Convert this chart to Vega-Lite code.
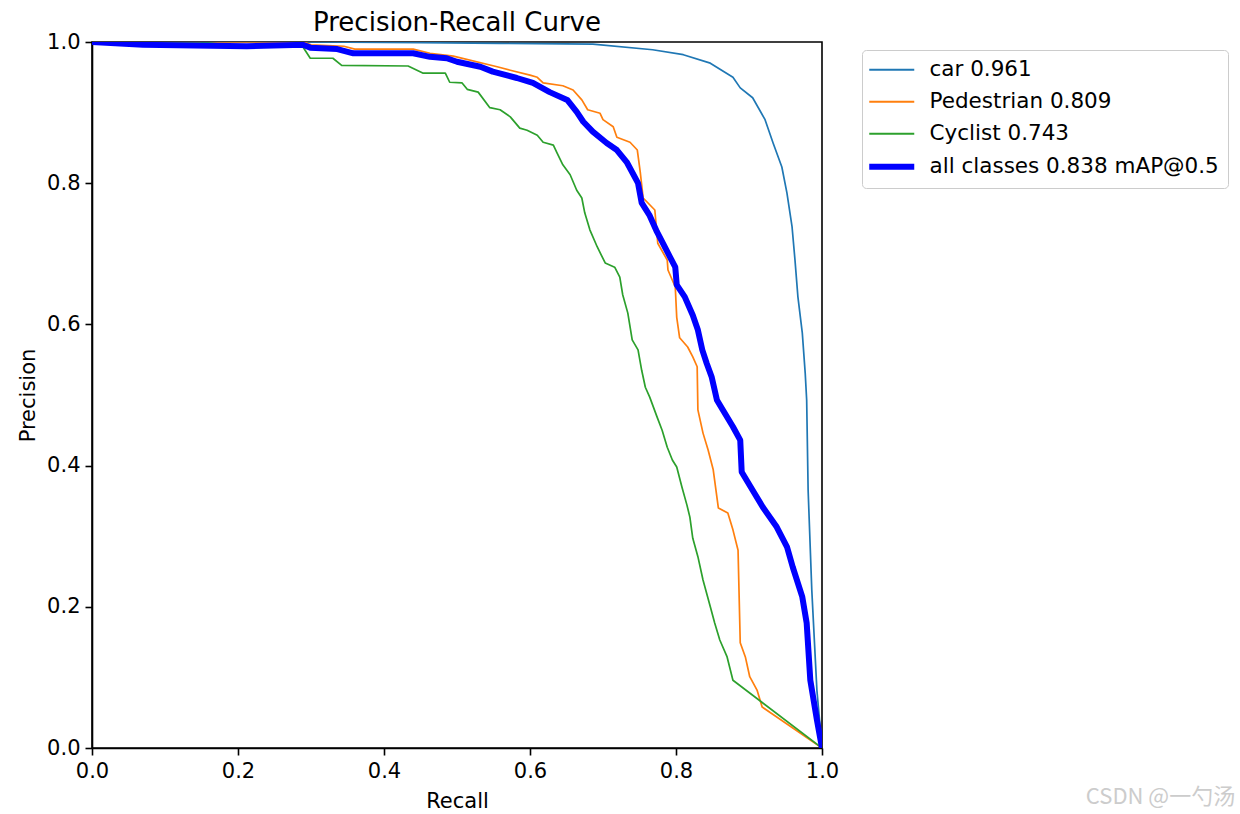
{
  "$schema": "https://vega.github.io/schema/vega-lite/v6.json",
  "width": 730,
  "height": 706,
  "autosize": {"type": "none"},
  "padding": {"left": 92, "top": 42, "right": 418, "bottom": 66},
  "background": "white",
  "title": {
    "text": "Precision-Recall Curve",
    "fontSize": 26,
    "font": "DejaVu Sans",
    "fontWeight": "normal",
    "color": "black",
    "anchor": "middle",
    "frame": "group",
    "offset": -5
  },
  "data": {
    "values": [
      {"series": "car 0.961", "recall": 0.0, "precision": 1.0},
      {"series": "car 0.961", "recall": 0.3, "precision": 1.0},
      {"series": "car 0.961", "recall": 0.45, "precision": 0.999},
      {"series": "car 0.961", "recall": 0.559, "precision": 0.998},
      {"series": "car 0.961", "recall": 0.686, "precision": 0.997},
      {"series": "car 0.961", "recall": 0.768, "precision": 0.989},
      {"series": "car 0.961", "recall": 0.81, "precision": 0.982},
      {"series": "car 0.961", "recall": 0.847, "precision": 0.97},
      {"series": "car 0.961", "recall": 0.878, "precision": 0.95},
      {"series": "car 0.961", "recall": 0.888, "precision": 0.935},
      {"series": "car 0.961", "recall": 0.905, "precision": 0.921},
      {"series": "car 0.961", "recall": 0.922, "precision": 0.89},
      {"series": "car 0.961", "recall": 0.933, "precision": 0.857},
      {"series": "car 0.961", "recall": 0.945, "precision": 0.823},
      {"series": "car 0.961", "recall": 0.952, "precision": 0.786},
      {"series": "car 0.961", "recall": 0.959, "precision": 0.738},
      {"series": "car 0.961", "recall": 0.963, "precision": 0.691},
      {"series": "car 0.961", "recall": 0.967, "precision": 0.639},
      {"series": "car 0.961", "recall": 0.973, "precision": 0.588},
      {"series": "car 0.961", "recall": 0.977, "precision": 0.531},
      {"series": "car 0.961", "recall": 0.979, "precision": 0.493},
      {"series": "car 0.961", "recall": 0.981, "precision": 0.365},
      {"series": "car 0.961", "recall": 0.986, "precision": 0.224},
      {"series": "car 0.961", "recall": 0.993, "precision": 0.082},
      {"series": "car 0.961", "recall": 1.0, "precision": 0.0},

      {"series": "Pedestrian 0.809", "recall": 0.0, "precision": 1.0},
      {"series": "Pedestrian 0.809", "recall": 0.29, "precision": 1.0},
      {"series": "Pedestrian 0.809", "recall": 0.3, "precision": 0.996},
      {"series": "Pedestrian 0.809", "recall": 0.345, "precision": 0.994},
      {"series": "Pedestrian 0.809", "recall": 0.36, "precision": 0.99},
      {"series": "Pedestrian 0.809", "recall": 0.44, "precision": 0.99},
      {"series": "Pedestrian 0.809", "recall": 0.463, "precision": 0.984},
      {"series": "Pedestrian 0.809", "recall": 0.495, "precision": 0.98},
      {"series": "Pedestrian 0.809", "recall": 0.555, "precision": 0.965},
      {"series": "Pedestrian 0.809", "recall": 0.573, "precision": 0.96},
      {"series": "Pedestrian 0.809", "recall": 0.6, "precision": 0.953},
      {"series": "Pedestrian 0.809", "recall": 0.61, "precision": 0.95},
      {"series": "Pedestrian 0.809", "recall": 0.618, "precision": 0.942},
      {"series": "Pedestrian 0.809", "recall": 0.645, "precision": 0.938},
      {"series": "Pedestrian 0.809", "recall": 0.659, "precision": 0.932},
      {"series": "Pedestrian 0.809", "recall": 0.671, "precision": 0.918},
      {"series": "Pedestrian 0.809", "recall": 0.679, "precision": 0.904},
      {"series": "Pedestrian 0.809", "recall": 0.696, "precision": 0.899},
      {"series": "Pedestrian 0.809", "recall": 0.7, "precision": 0.89},
      {"series": "Pedestrian 0.809", "recall": 0.714, "precision": 0.88},
      {"series": "Pedestrian 0.809", "recall": 0.719, "precision": 0.865},
      {"series": "Pedestrian 0.809", "recall": 0.737, "precision": 0.858},
      {"series": "Pedestrian 0.809", "recall": 0.747, "precision": 0.847},
      {"series": "Pedestrian 0.809", "recall": 0.751, "precision": 0.816},
      {"series": "Pedestrian 0.809", "recall": 0.755, "precision": 0.779},
      {"series": "Pedestrian 0.809", "recall": 0.771, "precision": 0.762},
      {"series": "Pedestrian 0.809", "recall": 0.775, "precision": 0.715},
      {"series": "Pedestrian 0.809", "recall": 0.788, "precision": 0.691},
      {"series": "Pedestrian 0.809", "recall": 0.789, "precision": 0.677},
      {"series": "Pedestrian 0.809", "recall": 0.799, "precision": 0.653},
      {"series": "Pedestrian 0.809", "recall": 0.801, "precision": 0.61},
      {"series": "Pedestrian 0.809", "recall": 0.805, "precision": 0.581},
      {"series": "Pedestrian 0.809", "recall": 0.816, "precision": 0.568},
      {"series": "Pedestrian 0.809", "recall": 0.823, "precision": 0.554},
      {"series": "Pedestrian 0.809", "recall": 0.829, "precision": 0.54},
      {"series": "Pedestrian 0.809", "recall": 0.83, "precision": 0.479},
      {"series": "Pedestrian 0.809", "recall": 0.837, "precision": 0.446},
      {"series": "Pedestrian 0.809", "recall": 0.844, "precision": 0.422},
      {"series": "Pedestrian 0.809", "recall": 0.851, "precision": 0.394},
      {"series": "Pedestrian 0.809", "recall": 0.858, "precision": 0.34},
      {"series": "Pedestrian 0.809", "recall": 0.871, "precision": 0.333},
      {"series": "Pedestrian 0.809", "recall": 0.878, "precision": 0.309},
      {"series": "Pedestrian 0.809", "recall": 0.885, "precision": 0.28},
      {"series": "Pedestrian 0.809", "recall": 0.888, "precision": 0.149},
      {"series": "Pedestrian 0.809", "recall": 0.895, "precision": 0.129},
      {"series": "Pedestrian 0.809", "recall": 0.901, "precision": 0.101},
      {"series": "Pedestrian 0.809", "recall": 0.911, "precision": 0.082},
      {"series": "Pedestrian 0.809", "recall": 0.918, "precision": 0.058},
      {"series": "Pedestrian 0.809", "recall": 1.0, "precision": 0.0},

      {"series": "Cyclist 0.743", "recall": 0.0, "precision": 1.0},
      {"series": "Cyclist 0.743", "recall": 0.148, "precision": 1.0},
      {"series": "Cyclist 0.743", "recall": 0.212, "precision": 0.993},
      {"series": "Cyclist 0.743", "recall": 0.289, "precision": 0.993},
      {"series": "Cyclist 0.743", "recall": 0.299, "precision": 0.977},
      {"series": "Cyclist 0.743", "recall": 0.33, "precision": 0.977},
      {"series": "Cyclist 0.743", "recall": 0.342, "precision": 0.967},
      {"series": "Cyclist 0.743", "recall": 0.433, "precision": 0.966},
      {"series": "Cyclist 0.743", "recall": 0.453, "precision": 0.956},
      {"series": "Cyclist 0.743", "recall": 0.484, "precision": 0.956},
      {"series": "Cyclist 0.743", "recall": 0.49, "precision": 0.943},
      {"series": "Cyclist 0.743", "recall": 0.507, "precision": 0.942},
      {"series": "Cyclist 0.743", "recall": 0.514, "precision": 0.933},
      {"series": "Cyclist 0.743", "recall": 0.529, "precision": 0.929},
      {"series": "Cyclist 0.743", "recall": 0.545, "precision": 0.907},
      {"series": "Cyclist 0.743", "recall": 0.559, "precision": 0.904},
      {"series": "Cyclist 0.743", "recall": 0.573, "precision": 0.894},
      {"series": "Cyclist 0.743", "recall": 0.586, "precision": 0.878},
      {"series": "Cyclist 0.743", "recall": 0.596, "precision": 0.875},
      {"series": "Cyclist 0.743", "recall": 0.61, "precision": 0.868},
      {"series": "Cyclist 0.743", "recall": 0.618, "precision": 0.858},
      {"series": "Cyclist 0.743", "recall": 0.632, "precision": 0.854},
      {"series": "Cyclist 0.743", "recall": 0.637, "precision": 0.843},
      {"series": "Cyclist 0.743", "recall": 0.645, "precision": 0.826},
      {"series": "Cyclist 0.743", "recall": 0.655, "precision": 0.812},
      {"series": "Cyclist 0.743", "recall": 0.664, "precision": 0.79},
      {"series": "Cyclist 0.743", "recall": 0.671, "precision": 0.779},
      {"series": "Cyclist 0.743", "recall": 0.675, "precision": 0.758},
      {"series": "Cyclist 0.743", "recall": 0.682, "precision": 0.734},
      {"series": "Cyclist 0.743", "recall": 0.692, "precision": 0.71},
      {"series": "Cyclist 0.743", "recall": 0.703, "precision": 0.687},
      {"series": "Cyclist 0.743", "recall": 0.716, "precision": 0.681},
      {"series": "Cyclist 0.743", "recall": 0.723, "precision": 0.667},
      {"series": "Cyclist 0.743", "recall": 0.727, "precision": 0.642},
      {"series": "Cyclist 0.743", "recall": 0.734, "precision": 0.616},
      {"series": "Cyclist 0.743", "recall": 0.74, "precision": 0.578},
      {"series": "Cyclist 0.743", "recall": 0.748, "precision": 0.564},
      {"series": "Cyclist 0.743", "recall": 0.753, "precision": 0.535},
      {"series": "Cyclist 0.743", "recall": 0.758, "precision": 0.511},
      {"series": "Cyclist 0.743", "recall": 0.764, "precision": 0.497},
      {"series": "Cyclist 0.743", "recall": 0.774, "precision": 0.469},
      {"series": "Cyclist 0.743", "recall": 0.781, "precision": 0.45},
      {"series": "Cyclist 0.743", "recall": 0.788, "precision": 0.426},
      {"series": "Cyclist 0.743", "recall": 0.795, "precision": 0.408},
      {"series": "Cyclist 0.743", "recall": 0.801, "precision": 0.398},
      {"series": "Cyclist 0.743", "recall": 0.808, "precision": 0.37},
      {"series": "Cyclist 0.743", "recall": 0.815, "precision": 0.344},
      {"series": "Cyclist 0.743", "recall": 0.819, "precision": 0.327},
      {"series": "Cyclist 0.743", "recall": 0.823, "precision": 0.297},
      {"series": "Cyclist 0.743", "recall": 0.83, "precision": 0.271},
      {"series": "Cyclist 0.743", "recall": 0.837, "precision": 0.238},
      {"series": "Cyclist 0.743", "recall": 0.847, "precision": 0.2},
      {"series": "Cyclist 0.743", "recall": 0.853, "precision": 0.177},
      {"series": "Cyclist 0.743", "recall": 0.86, "precision": 0.153},
      {"series": "Cyclist 0.743", "recall": 0.87, "precision": 0.129},
      {"series": "Cyclist 0.743", "recall": 0.878, "precision": 0.096},
      {"series": "Cyclist 0.743", "recall": 1.0, "precision": 0.0},

      {"series": "all classes 0.838 mAP@0.5", "recall": 0.0, "precision": 1.0},
      {"series": "all classes 0.838 mAP@0.5", "recall": 0.07, "precision": 0.996},
      {"series": "all classes 0.838 mAP@0.5", "recall": 0.212, "precision": 0.994},
      {"series": "all classes 0.838 mAP@0.5", "recall": 0.289, "precision": 0.996},
      {"series": "all classes 0.838 mAP@0.5", "recall": 0.299, "precision": 0.992},
      {"series": "all classes 0.838 mAP@0.5", "recall": 0.336, "precision": 0.99},
      {"series": "all classes 0.838 mAP@0.5", "recall": 0.358, "precision": 0.984},
      {"series": "all classes 0.838 mAP@0.5", "recall": 0.44, "precision": 0.984},
      {"series": "all classes 0.838 mAP@0.5", "recall": 0.463, "precision": 0.979},
      {"series": "all classes 0.838 mAP@0.5", "recall": 0.486, "precision": 0.977},
      {"series": "all classes 0.838 mAP@0.5", "recall": 0.5, "precision": 0.972},
      {"series": "all classes 0.838 mAP@0.5", "recall": 0.532, "precision": 0.965},
      {"series": "all classes 0.838 mAP@0.5", "recall": 0.549, "precision": 0.958},
      {"series": "all classes 0.838 mAP@0.5", "recall": 0.582, "precision": 0.949},
      {"series": "all classes 0.838 mAP@0.5", "recall": 0.604, "precision": 0.942},
      {"series": "all classes 0.838 mAP@0.5", "recall": 0.627, "precision": 0.929},
      {"series": "all classes 0.838 mAP@0.5", "recall": 0.651, "precision": 0.918},
      {"series": "all classes 0.838 mAP@0.5", "recall": 0.664, "precision": 0.901},
      {"series": "all classes 0.838 mAP@0.5", "recall": 0.673, "precision": 0.887},
      {"series": "all classes 0.838 mAP@0.5", "recall": 0.686, "precision": 0.873},
      {"series": "all classes 0.838 mAP@0.5", "recall": 0.705, "precision": 0.857},
      {"series": "all classes 0.838 mAP@0.5", "recall": 0.719, "precision": 0.847},
      {"series": "all classes 0.838 mAP@0.5", "recall": 0.733, "precision": 0.829},
      {"series": "all classes 0.838 mAP@0.5", "recall": 0.748, "precision": 0.8},
      {"series": "all classes 0.838 mAP@0.5", "recall": 0.753, "precision": 0.772},
      {"series": "all classes 0.838 mAP@0.5", "recall": 0.764, "precision": 0.754},
      {"series": "all classes 0.838 mAP@0.5", "recall": 0.774, "precision": 0.731},
      {"series": "all classes 0.838 mAP@0.5", "recall": 0.782, "precision": 0.715},
      {"series": "all classes 0.838 mAP@0.5", "recall": 0.792, "precision": 0.695},
      {"series": "all classes 0.838 mAP@0.5", "recall": 0.799, "precision": 0.681},
      {"series": "all classes 0.838 mAP@0.5", "recall": 0.801, "precision": 0.656},
      {"series": "all classes 0.838 mAP@0.5", "recall": 0.812, "precision": 0.639},
      {"series": "all classes 0.838 mAP@0.5", "recall": 0.823, "precision": 0.613},
      {"series": "all classes 0.838 mAP@0.5", "recall": 0.83, "precision": 0.592},
      {"series": "all classes 0.838 mAP@0.5", "recall": 0.836, "precision": 0.564},
      {"series": "all classes 0.838 mAP@0.5", "recall": 0.842, "precision": 0.545},
      {"series": "all classes 0.838 mAP@0.5", "recall": 0.849, "precision": 0.525},
      {"series": "all classes 0.838 mAP@0.5", "recall": 0.856, "precision": 0.493},
      {"series": "all classes 0.838 mAP@0.5", "recall": 0.864, "precision": 0.479},
      {"series": "all classes 0.838 mAP@0.5", "recall": 0.878, "precision": 0.455},
      {"series": "all classes 0.838 mAP@0.5", "recall": 0.888, "precision": 0.436},
      {"series": "all classes 0.838 mAP@0.5", "recall": 0.89, "precision": 0.391},
      {"series": "all classes 0.838 mAP@0.5", "recall": 0.905, "precision": 0.365},
      {"series": "all classes 0.838 mAP@0.5", "recall": 0.919, "precision": 0.341},
      {"series": "all classes 0.838 mAP@0.5", "recall": 0.938, "precision": 0.313},
      {"series": "all classes 0.838 mAP@0.5", "recall": 0.952, "precision": 0.285},
      {"series": "all classes 0.838 mAP@0.5", "recall": 0.96, "precision": 0.256},
      {"series": "all classes 0.838 mAP@0.5", "recall": 0.973, "precision": 0.214},
      {"series": "all classes 0.838 mAP@0.5", "recall": 0.979, "precision": 0.177},
      {"series": "all classes 0.838 mAP@0.5", "recall": 0.984, "precision": 0.096},
      {"series": "all classes 0.838 mAP@0.5", "recall": 0.993, "precision": 0.04},
      {"series": "all classes 0.838 mAP@0.5", "recall": 1.0, "precision": 0.0}
    ]
  },
  "layer": [
    {
      "mark": {"type": "line", "clip": true, "strokeJoin": "round"},
      "encoding": {
        "x": {
          "field": "recall",
          "type": "quantitative",
          "title": "Recall",
          "scale": {"domain": [0, 1], "nice": false, "zero": false},
          "axis": {"values": [0, 0.2, 0.4, 0.6, 0.8, 1.0], "format": ".1f"}
        },
        "y": {
          "field": "precision",
          "type": "quantitative",
          "title": "Precision",
          "scale": {"domain": [0, 1], "nice": false, "zero": false},
          "axis": {"values": [0, 0.2, 0.4, 0.6, 0.8, 1.0], "format": ".1f"}
        },
        "color": {
          "field": "series",
          "type": "nominal",
          "sort": null,
          "scale": {
            "domain": ["car 0.961", "Pedestrian 0.809", "Cyclist 0.743", "all classes 0.838 mAP@0.5"],
            "range": ["#1f77b4", "#ff7f0e", "#2ca02c", "#0000ff"]
          },
          "legend": {
            "orient": "none",
            "legendX": 770,
            "legendY": 8,
            "title": null,
            "encode": {
              "symbols": {
                "update": {
                  "strokeWidth": {"signal": "datum.value == 'all classes 0.838 mAP@0.5' ? 6 : 1.8"}
                }
              }
            }
          }
        },
        "strokeWidth": {
          "condition": {"test": "datum.series == 'all classes 0.838 mAP@0.5'", "value": 6},
          "value": 1.7
        }
      }
    },
    {
      "data": {"values": [{"note": "CSDN @一勺汤"}]},
      "mark": {
        "type": "text",
        "align": "right",
        "baseline": "middle",
        "font": "Noto Sans CJK SC",
        "fontSize": 22,
        "color": "#cccccc"
      },
      "encoding": {
        "x": {"datum": 1.566, "type": "quantitative"},
        "y": {"datum": -0.069, "type": "quantitative"},
        "text": {"field": "note", "type": "nominal"}
      }
    }
  ],
  "config": {
    "font": "DejaVu Sans",
    "view": {"stroke": "black", "strokeWidth": 1.6},
    "axis": {
      "grid": false,
      "domainColor": "black",
      "domainWidth": 1.6,
      "tickColor": "black",
      "tickWidth": 1.6,
      "tickSize": 7,
      "labelFont": "DejaVu Sans",
      "labelFontSize": 21,
      "labelColor": "black",
      "labelPadding": 5,
      "labelFlush": false,
      "labelOverlap": false,
      "titleFont": "DejaVu Sans",
      "titleFontSize": 21,
      "titleFontWeight": "normal",
      "titleColor": "black"
    },
    "axisX": {"titlePadding": 9},
    "axisY": {"titlePadding": 8},
    "legend": {
      "symbolType": "stroke",
      "symbolSize": 2025,
      "symbolStrokeWidth": 1.8,
      "symbolOffset": 10,
      "labelFont": "DejaVu Sans",
      "labelFontSize": 21.5,
      "labelColor": "black",
      "labelOffset": 27,
      "labelLimit": 500,
      "padding": 9,
      "rowPadding": 9,
      "strokeColor": "#cccccc",
      "fillColor": "white",
      "cornerRadius": 4
    }
  }
}
